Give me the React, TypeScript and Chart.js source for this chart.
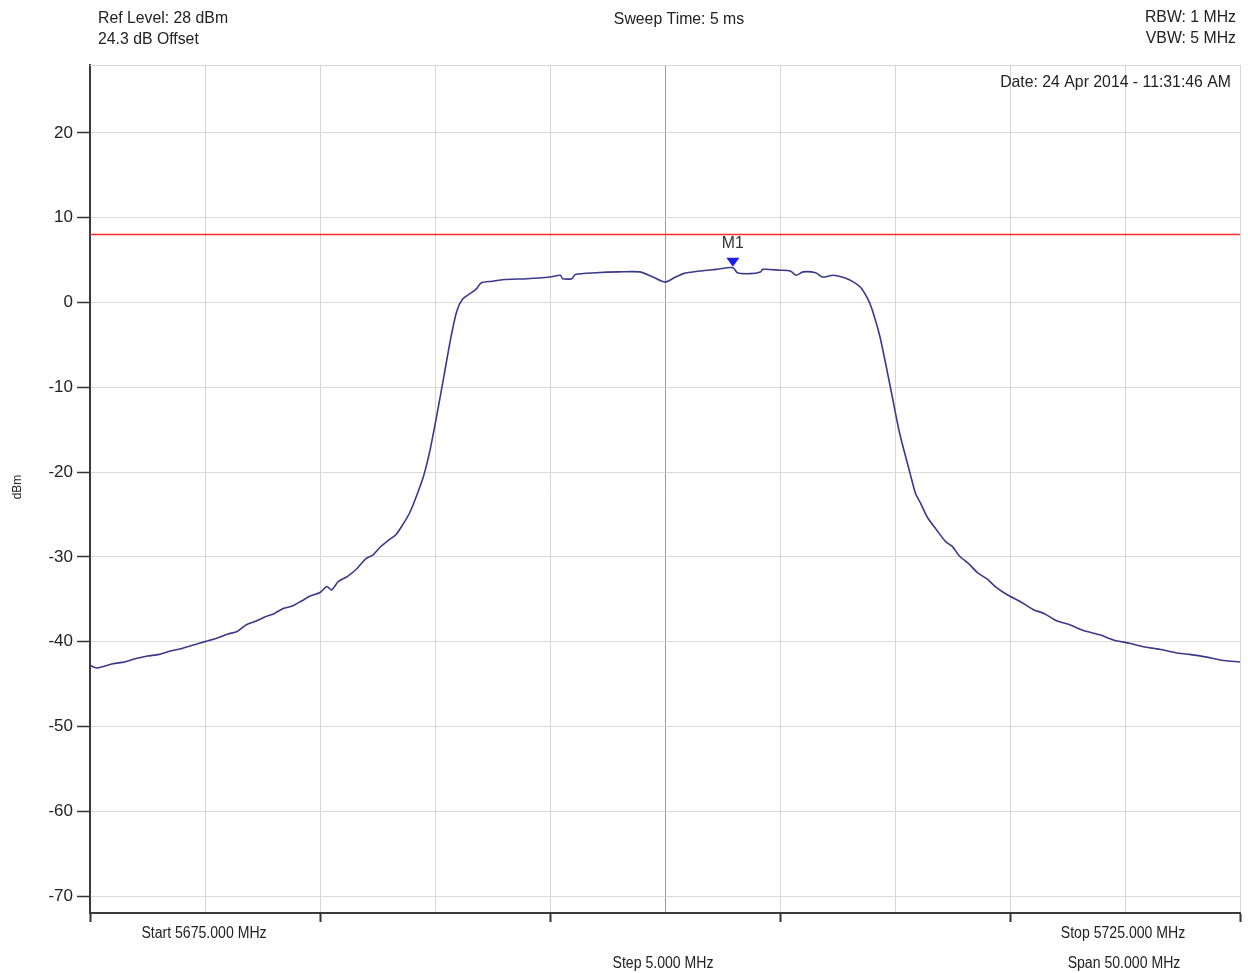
import React, { useEffect, useRef } from "react";
import { Chart, registerables } from "chart.js";

Chart.register(...registerables);

// ---- data ----
const freqMHz: number[] = [
  5675.0, 5675.3, 5676.0, 5676.5, 5677.0, 5677.5, 5678.0, 5678.5, 5679.0, 5679.5,
  5680.0, 5680.5, 5681.0, 5681.4, 5681.8, 5682.2, 5682.6, 5683.0, 5683.4, 5683.8,
  5684.2, 5684.6, 5685.0, 5685.3, 5685.5, 5685.8, 5686.2, 5686.6, 5687.0, 5687.3,
  5687.6, 5688.0, 5688.3, 5688.6, 5688.9, 5689.2, 5689.5, 5689.8, 5690.1, 5690.4,
  5690.7, 5690.95, 5691.2, 5691.5, 5691.8, 5692.0, 5692.5, 5693.0, 5694.0, 5695.0,
  5695.45, 5695.55, 5695.95, 5696.1, 5697.0, 5698.0, 5698.9, 5699.4, 5700.0, 5700.4,
  5700.8, 5701.5, 5702.2, 5702.95, 5703.15, 5703.7, 5704.15, 5704.25, 5705.0, 5705.45,
  5705.7, 5706.0, 5706.55, 5706.85, 5707.3, 5707.8, 5708.2, 5708.5, 5708.8, 5709.0,
  5709.35, 5709.8, 5710.2, 5710.65, 5710.9, 5711.1, 5711.4, 5711.8, 5712.2, 5712.5,
  5712.8, 5713.2, 5713.6, 5714.0, 5714.4, 5714.9, 5715.4, 5716.0, 5716.5, 5717.0,
  5717.6, 5718.2, 5718.9, 5719.5, 5720.2, 5720.8, 5721.5, 5722.2, 5722.8, 5723.5,
  5724.2, 5725.0,
];
const levelDbm: number[] = [
  -42.8, -43.1, -42.6, -42.4, -42.0, -41.7, -41.5, -41.1, -40.8, -40.4,
  -40.0, -39.6, -39.1, -38.8, -38.0, -37.6, -37.1, -36.7, -36.1, -35.8,
  -35.2, -34.6, -34.2, -33.5, -33.9, -32.9, -32.3, -31.4, -30.2, -29.8,
  -28.9, -28.0, -27.4, -26.2, -24.8, -22.8, -20.5, -17.2, -13.0, -8.5,
  -4.0, -1.0, 0.4, 1.0, 1.6, 2.3, 2.5, 2.7, 2.8, 3.0,
  3.2, 2.8, 2.8, 3.3, 3.5, 3.6, 3.6, 3.1, 2.4, 2.9,
  3.4, 3.7, 3.9, 4.1, 3.5, 3.4, 3.6, 3.9, 3.8, 3.7,
  3.2, 3.6, 3.5, 3.0, 3.2, 2.9, 2.4, 1.8, 0.5, -0.8,
  -4.1, -10.0, -15.4, -20.1, -22.6, -23.6, -25.3, -26.8, -28.2, -28.8,
  -29.9, -30.8, -31.9, -32.6, -33.6, -34.5, -35.2, -36.2, -36.7, -37.5,
  -38.0, -38.7, -39.2, -39.8, -40.2, -40.6, -40.9, -41.3, -41.5, -41.8,
  -42.2, -42.4,
];
const limitDbm = 8;
const markerFreq = 5702.95;
const markerLevel = 4.1;
const markerName = "M1";
const startMHz = 5675;
const stopMHz = 5725;
const stepMHz = 5;
const refLevel = 28;
const bottomLevel = -72;
const yTickValues: number[] = [20, 10, 0, -10, -20, -30, -40, -50, -60, -70];
const xTickValues: number[] = [5675, 5680, 5685, 5690, 5695, 5700, 5705, 5710, 5715, 5720, 5725];
const headerTexts = {
  ref: "Ref Level: 28 dBm",
  offset: "24.3 dB Offset",
  sweep: "Sweep Time: 5 ms",
  rbw: "RBW: 1 MHz",
  vbw: "VBW: 5 MHz",
  date: "Date: 24 Apr 2014 - 11:31:46 AM",
  start: "Start 5675.000 MHz",
  stop: "Stop 5725.000 MHz",
  step: "Step 5.000 MHz",
  span: "Span 50.000 MHz",
  yTitle: "dBm",
};

const FONT = '"Liberation Sans", Arial, sans-serif';
const TEXT = "#222";

function drawText(
  ctx: CanvasRenderingContext2D,
  s: string,
  x: number,
  y: number,
  align: CanvasTextAlign,
  size: number,
  sx = 0.9,
  color = TEXT
) {
  ctx.save();
  ctx.font = `${size}px ${FONT}`;
  ctx.fillStyle = color;
  ctx.textAlign = align;
  ctx.textBaseline = "alphabetic";
  ctx.translate(x, y);
  ctx.scale(sx, 1);
  ctx.fillText(s, 0, 0);
  ctx.restore();
}

const overlayPlugin = {
  id: "overlay",
  afterDraw(chart: any) {
    const ctx: CanvasRenderingContext2D = chart.ctx;
    const area = chart.chartArea;
    const xs = chart.scales.x;
    const ys = chart.scales.y;

    // top frame line
    ctx.save();
    ctx.strokeStyle = "#d6d6d6";
    ctx.lineWidth = 1;
    ctx.beginPath();
    ctx.moveTo(area.left, area.top + 0.5);
    ctx.lineTo(area.right, area.top + 0.5);
    ctx.stroke();
    ctx.restore();

    // header
    drawText(ctx, headerTexts.ref, 98, 23, "left", 17, 0.93);
    drawText(ctx, headerTexts.offset, 98, 44, "left", 17, 0.93);
    drawText(ctx, headerTexts.sweep, 679, 24, "center", 17, 0.93);
    drawText(ctx, headerTexts.rbw, 1236, 22, "right", 17, 0.93);
    drawText(ctx, headerTexts.vbw, 1236, 43, "right", 17, 0.93);
    drawText(ctx, headerTexts.date, 1231, 87, "right", 17, 0.93);

    // footer
    drawText(ctx, headerTexts.start, 204, 938, "center", 16, 0.88);
    drawText(ctx, headerTexts.stop, 1123, 938, "center", 16, 0.88);
    drawText(ctx, headerTexts.step, 663, 968, "center", 16, 0.88);
    drawText(ctx, headerTexts.span, 1124, 968, "center", 16, 0.88);

    // y title
    ctx.save();
    ctx.translate(21, 487);
    ctx.rotate(-Math.PI / 2);
    ctx.font = `12px ${FONT}`;
    ctx.fillStyle = TEXT;
    ctx.textAlign = "center";
    ctx.textBaseline = "alphabetic";
    ctx.fillText(headerTexts.yTitle, 0, 0);
    ctx.restore();

    // marker
    const px = xs.getPixelForValue(markerFreq);
    const py = ys.getPixelForValue(markerLevel);
    ctx.save();
    ctx.fillStyle = "#1c1cf0";
    ctx.beginPath();
    ctx.moveTo(px, py - 1);
    ctx.lineTo(px - 6.5, py - 10);
    ctx.lineTo(px + 6.5, py - 10);
    ctx.closePath();
    ctx.fill();
    ctx.restore();
    drawText(ctx, markerName, px, py - 20, "center", 17, 0.93, "#333");
  },
};

export default function App() {
  const canvasRef = useRef<HTMLCanvasElement | null>(null);

  useEffect(() => {
    const canvas = canvasRef.current;
    if (!canvas) return;
    const trace = freqMHz.map((f, i) => ({ x: f, y: levelDbm[i] }));
    const chart = new Chart(canvas, {
      type: "line",
      data: {
        datasets: [
          {
            label: "Trace",
            data: trace,
            borderColor: "#3a3a88",
            borderWidth: 1.6,
            pointRadius: 0,
            tension: 0.25,
            fill: false,
          },
          {
            label: "Limit",
            data: [
              { x: startMHz, y: limitDbm },
              { x: stopMHz, y: limitDbm },
            ],
            borderColor: "#ff2a2a",
            borderWidth: 1.5,
            pointRadius: 0,
            fill: false,
          },
        ],
      },
      options: {
        responsive: false,
        maintainAspectRatio: false,
        devicePixelRatio: 1,
        animation: false,
        layout: { padding: { top: 65, right: 8, left: 0, bottom: 0 } },
        plugins: {
          legend: { display: false },
          tooltip: { enabled: false },
          title: { display: false },
        },
        scales: {
          x: {
            type: "linear",
            min: startMHz,
            max: stopMHz,
            afterBuildTicks: (scale: any) => {
              scale.ticks = xTickValues.map((v) => ({ value: v }));
            },
            afterFit: (scale: any) => {
              scale.height = 60;
            },
            ticks: { display: false, stepSize: stepMHz },
            grid: {
              drawTicks: true,
              tickLength: 9,
              lineWidth: 1,
              color: (c: any) => {
                const v = c.tick ? c.tick.value : 0;
                if (v === startMHz) return "rgba(0,0,0,0)";
                if (v === 5700) return "#9c9c9c";
                return "#d6d6d6";
              },
              tickColor: (c: any) => {
                const v = c.tick ? c.tick.value : 0;
                return Math.round(v - startMHz) % 10 === 0 ? "#333" : "rgba(0,0,0,0)";
              },
              tickWidth: 2,
            },
            border: { display: true, color: "#3a3a3a", width: 2 },
          },
          y: {
            type: "linear",
            min: bottomLevel,
            max: refLevel,
            afterBuildTicks: (scale: any) => {
              scale.ticks = yTickValues.map((v) => ({ value: v }));
            },
            afterFit: (scale: any) => {
              scale.width = 90;
            },
            ticks: {
              padding: 4,
              color: TEXT,
              font: { family: FONT, size: 17 },
              callback: (v: any) => String(v),
            },
            grid: {
              drawTicks: true,
              tickLength: 13,
              color: "#d9d9d9",
              lineWidth: 1,
              tickColor: "#333",
              tickWidth: 1.5,
            },
            border: { display: true, color: "#3a3a3a", width: 2 },
          },
        },
      },
      plugins: [overlayPlugin],
    } as any);
    return () => chart.destroy();
  }, []);

  return (
    <div
      style={{
        position: "fixed",
        left: 0,
        top: 0,
        width: 1248,
        height: 973,
        background: "#fff",
      }}
    >
      <canvas ref={canvasRef} width={1248} height={973} style={{ display: "block" }} />
    </div>
  );
}
